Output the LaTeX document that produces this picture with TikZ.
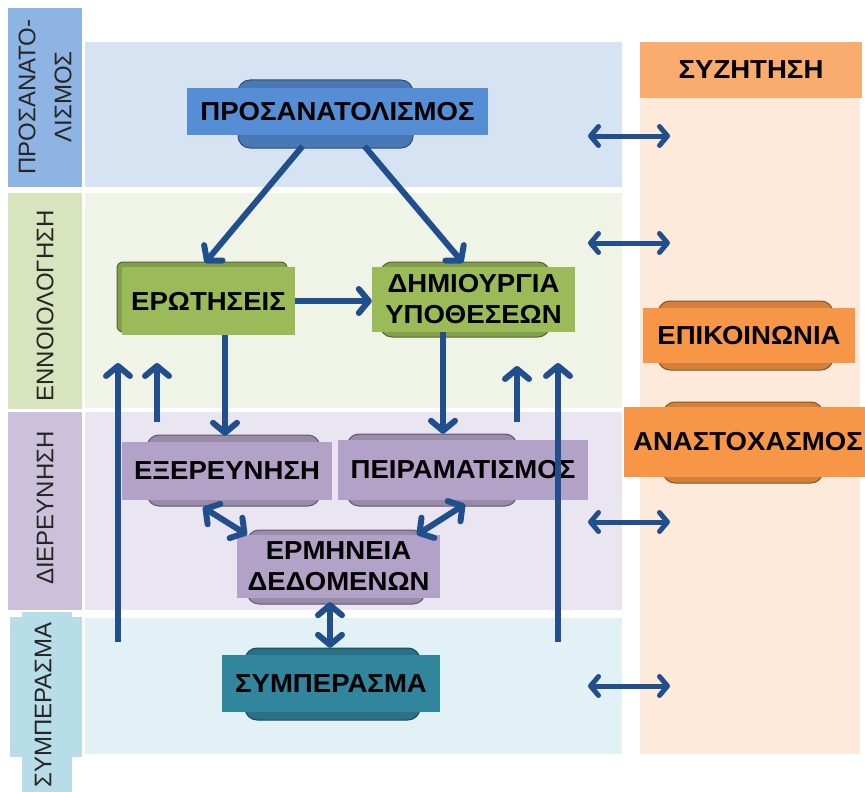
\documentclass[tikz,border=0pt]{standalone}
\usepackage{fontspec}
\setmainfont{Liberation Sans}
\newfontfamily\boxfont{Liberation Sans}[FakeStretch=1.06]
\usetikzlibrary{arrows.meta,calc}
\definecolor{arrowblue}{RGB}{33,78,140}
\definecolor{bandA}{RGB}{214,227,243}
\definecolor{bandB}{RGB}{240,244,231}
\definecolor{bandC}{RGB}{233,229,241}
\definecolor{bandD}{RGB}{225,241,246}
\definecolor{bandR}{RGB}{253,234,218}
\definecolor{tabA}{RGB}{141,180,227}
\definecolor{tabB}{RGB}{216,228,189}
\definecolor{tabC}{RGB}{204,193,218}
\definecolor{tabD}{RGB}{183,221,232}
\definecolor{nodeblue}{RGB}{85,142,213}
\definecolor{nodegreen}{RGB}{155,187,89}
\definecolor{nodepurple}{RGB}{179,162,199}
\definecolor{nodeteal}{RGB}{49,133,156}
\definecolor{nodeorange}{RGB}{247,150,70}
\definecolor{nodeorangelight}{RGB}{249,172,110}
\begin{document}
\begin{tikzpicture}[x=1pt,y=-1pt,
  box/.style={rectangle, inner sep=0pt, align=center, text=black,
    font=\boxfont\bfseries\fontsize{26}{31}\selectfont},
  backshape/.style={rounded corners=12pt, fill=#1!85!black, draw=#1!55!black, line width=1pt},
  tabtext/.style={rotate=90, align=center, inner sep=0pt, text=black!85,
    font=\fontsize{24}{36}\selectfont},
  tipA/.tip={Straight Barb[length=10pt,width=24pt,round]},
  tipB/.tip={Straight Barb[length=8pt,width=19pt,round]},
  arr/.style={draw=arrowblue, line width=6pt, -tipA},
  darr/.style={draw=arrowblue, line width=6pt, tipA-tipA},
  harr/.style={draw=arrowblue, line width=5pt, tipB-tipB},
]
\useasboundingbox (0,0) rectangle (865,792);
% bands
\fill[bandA] (85,42) rectangle (622,187);
\fill[bandB] (85,193) rectangle (622,408);
\fill[bandC] (85,412) rectangle (622,610);
\fill[bandD] (85,618) rectangle (622,754);
\fill[bandR] (640,42) rectangle (860,754);
% side tabs
\fill[tabA] (8,8) rectangle (82,187);
\fill[tabB] (8,193) rectangle (82,409);
\fill[tabC] (8,412) rectangle (82,610);
\fill[tabD] (10,617) rectangle (82,757);
\fill[tabD] (22,612) rectangle (72,792);
\node[tabtext] (tA) at (45,97) {ΠΡΟΣΑΝΑΤΟ-\\ΛΙΣΜΟΣ};
\node[tabtext] (tB) at (45,306) {ΕΝΝΟΙΟΛΟΓΗΣΗ};
\node[tabtext] (tC) at (45,508) {ΔΙΕΡΕΥΝΗΣΗ};
\node[tabtext] (tD) at (43,705) {ΣΥΜΠΕΡΑΣΜΑ};
% back plaques
\draw[backshape=nodeblue] (238,80) rectangle (413,148);
\draw[backshape=nodegreen, rounded corners=6pt] (117,262) rectangle (287,332);
\draw[backshape=nodegreen] (380,262) rectangle (550,337);
\draw[backshape=nodepurple] (147,435) rectangle (320,506);
\draw[backshape=nodepurple] (347,434) rectangle (517,506);
\draw[backshape=nodepurple] (247,530) rectangle (425,604);
\draw[backshape=nodeteal] (245,648) rectangle (420,720);
\draw[backshape=nodeorange] (658,301) rectangle (833,370);
\draw[backshape=nodeorange] (663,402) rectangle (823,483);
% nodes
\node[box, fill=nodeblue, minimum width=301pt, minimum height=47pt] (pros) at (337.5,111.5) {ΠΡΟΣΑΝΑΤΟΛΙΣΜΟΣ};
\node[box, fill=nodegreen, minimum width=173pt, minimum height=68pt] (erot) at (208.5,301) {ΕΡΩΤΗΣΕΙΣ};
\node[box, fill=nodegreen, minimum width=203pt, minimum height=65pt] (dim) at (473.5,299.5) {ΔΗΜΙΟΥΡΓΙΑ\\ΥΠΟΘΕΣΕΩΝ};
\node[box, fill=nodepurple, minimum width=210pt, minimum height=58pt] (exer) at (227,471) {ΕΞΕΡΕΥΝΗΣΗ};
\node[box, fill=nodepurple, minimum width=250pt, minimum height=60pt] (peir) at (463,470) {ΠΕΙΡΑΜΑΤΙΣΜΟΣ};
\node[box, fill=nodepurple, minimum width=203pt, minimum height=63pt] (erm) at (338.5,566.5) {ΕΡΜΗΝΕΙΑ\\ΔΕΔΟΜΕΝΩΝ};
\node[box, fill=nodeteal, minimum width=218pt, minimum height=57pt] (symp) at (331,683.5) {ΣΥΜΠΕΡΑΣΜΑ};
\node[box, fill=nodeorangelight, minimum width=222pt, minimum height=56pt] (syz) at (751,70) {ΣΥΖΗΤΗΣΗ};
\node[box, fill=nodeorange, minimum width=212pt, minimum height=55pt] (epik) at (749,335.5) {ΕΠΙΚΟΙΝΩΝΙΑ};
\node[box, fill=nodeorange, minimum width=248pt, minimum height=70pt] (anas) at (748,442) {ΑΝΑΣΤΟΧΑΣΜΟΣ};
% connectors between nodes
\draw[arr] ([xshift=-35pt,yshift=-11pt]pros.south) -- ([xshift=-3.5pt,yshift=4pt]erot.north);
\draw[arr] ([xshift=27pt,yshift=-11pt]pros.south) -- ([xshift=-10.5pt,yshift=4pt]dim.north);
\draw[arr] (erot.east) -- (erot.east -| dim.west);
\path ([xshift=16.5pt]erot.south) coordinate (a1);
\draw[arr, shorten >=6pt] (a1) -- (a1 |- exer.north);
\path ([xshift=-30.5pt]dim.south) coordinate (a2);
\draw[arr, shorten >=6pt] (a2) -- (a2 |- peir.north);
\draw[darr] ([xshift=-24pt,yshift=-7pt]exer.south) -- ([xshift=-91.5pt]erm.north);
\draw[darr] ([xshift=2pt,yshift=-4pt]peir.south) -- ([xshift=78.5pt]erm.north);
\path ([xshift=-8.5pt,yshift=-4pt]erm.south) coordinate (a3);
\draw[darr, shorten >=7pt] (a3) -- (a3 |- symp.north);
% free upward arrows
\coordinate (u1s) at (118,642); \coordinate (u1e) at (118,363);
\coordinate (u2s) at (157,422); \coordinate (u2e) at (157,363);
\coordinate (u3s) at (517,422); \coordinate (u3e) at (517,366);
\coordinate (u4s) at (558,642); \coordinate (u4e) at (558,363);
\draw[arr] (u1s) -- (u1e);
\draw[arr] (u2s) -- (u2e);
\draw[arr] (u3s) -- (u3e);
\draw[arr] (u4s) -- (u4e);
% horizontal double arrows to the right column
\foreach \yy/\nm in {136/h1,243/h2,522/h3,686/h4}{
  \coordinate (\nm a) at (588,\yy);
  \coordinate (\nm b) at (670,\yy);
  \draw[harr] (\nm a) -- (\nm b);
}
\end{tikzpicture}
\end{document}
